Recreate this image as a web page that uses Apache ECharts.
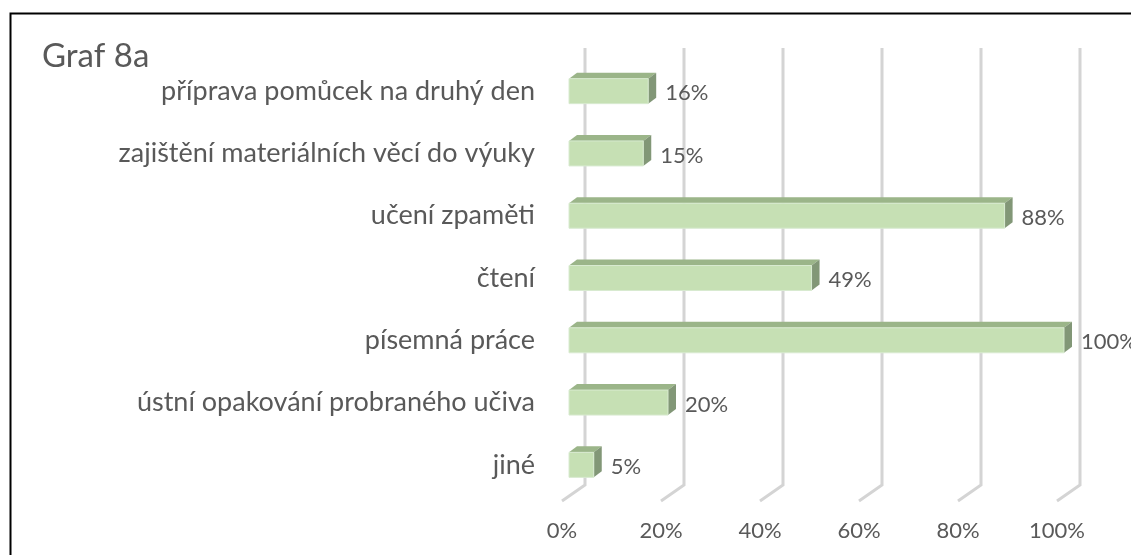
<!DOCTYPE html>
<html>
<head>
<meta charset="utf-8">
<script src="https://cdn.jsdelivr.net/npm/echarts@6/dist/echarts.min.js"></script>
<style>
  html, body { margin: 0; padding: 0; background: #fff; }
  #chart { width: 1131px; height: 555px; }
</style>
</head>
<body>
<div id="chart"></div>
<script>
// kategorie shora dolů
const categories = [
  "příprava pomůcek na druhý den",
  "zajištění materiálních věcí do výuky",
  "učení zpaměti",
  "čtení",
  "písemná práce",
  "ústní opakování probraného učiva",
  "jiné",
];
const values = [16, 15, 88, 49, 100, 20, 5];
const tickValues = [0, 20, 40, 60, 80, 100];

const FONT = "Lato";
const TEXT = "#595959";
// 3D posuny (px)
const FLOOR_DX = 23, FLOOR_DY = 16;
const BAR_X0 = 7, BAR_DX = 8, BAR_DY = 6, BAR_H = 25;

const chart = echarts.init(document.getElementById("chart"));

function renderGrid(params, api) {
  const cs = params.coordSys;
  const x = api.coord([api.value(0), 0])[0];
  const yTop = cs.y - 12;
  const yBack = cs.y + cs.height - 11;
  const yFront = yBack + FLOOR_DY;
  return {
    type: "polyline",
    shape: { points: [[x + FLOOR_DX, yTop], [x + FLOOR_DX, yBack], [x, yFront]] },
    style: { stroke: "#d4d4d4", lineWidth: 3, fill: null },
    silent: true,
  };
}

function renderBar(params, api) {
  const p0 = api.coord([0, api.value(1)]);
  const p1 = api.coord([api.value(0), api.value(1)]);
  const x0 = p0[0] + BAR_X0;
  const x1 = p1[0] + BAR_X0;
  const yT = p0[1] - BAR_H / 2;
  const yB = p0[1] + BAR_H / 2;
  return {
    type: "group",
    children: [
      {
        type: "polygon",
        shape: { points: [[x0, yT], [x1, yT], [x1 + BAR_DX, yT - BAR_DY], [x0 + BAR_DX, yT - BAR_DY]] },
        style: { fill: "#9bb589" },
      },
      {
        type: "polygon",
        shape: { points: [[x1, yT], [x1 + BAR_DX, yT - BAR_DY], [x1 + BAR_DX, yB - BAR_DY], [x1, yB]] },
        style: { fill: "#829777" },
      },
      {
        type: "rect",
        shape: { x: x0, y: yT, width: x1 - x0, height: BAR_H },
        style: { fill: "#c6e0b4", stroke: "#d8ead0", lineWidth: 1 },
      },
      {
        type: "text",
        x: x1 + BAR_DX + 9,
        y: p0[1] + 2,
        style: {
          text: api.value(0) + "%",
          fill: TEXT,
          font: "22px " + FONT,
          align: "left",
          verticalAlign: "middle",
        },
      },
    ],
  };
}

chart.setOption({
  animation: false,
  title: {
    text: "Graf 8a",
    left: 37,
    top: 35,
    textStyle: { fontFamily: FONT, fontSize: 33, fontWeight: "normal", color: TEXT },
  },
  graphic: [
    {
      type: "rect",
      shape: { x: 10.5, y: 13.5, width: 1200, height: 600 },
      style: { fill: null, stroke: "#000", lineWidth: 2 },
      silent: true,
    },
  ],
  grid: { left: 562, top: 60, width: 495, height: 436 },
  xAxis: {
    type: "value",
    min: 0,
    max: 100,
    interval: 20,
    axisLine: { show: false },
    axisTick: { show: false },
    splitLine: { show: false },
    axisLabel: {
      formatter: "{value}%",
      fontFamily: FONT,
      fontSize: 22,
      color: TEXT,
      margin: 24,
    },
  },
  yAxis: {
    type: "category",
    inverse: true,
    data: categories,
    axisLine: { show: false },
    axisTick: { show: false },
    axisLabel: { fontFamily: FONT, fontSize: 27, color: TEXT, margin: 27 },
  },
  series: [
    {
      type: "custom",
      renderItem: renderGrid,
      data: tickValues.map((v) => [v]),
      encode: { x: 0 },
      clip: false,
      silent: true,
      z: 1,
    },
    {
      type: "custom",
      renderItem: renderBar,
      data: values.map((v, i) => [v, i]),
      encode: { x: 0, y: 1 },
      clip: false,
      z: 2,
    },
  ],
});
</script>
</body>
</html>
